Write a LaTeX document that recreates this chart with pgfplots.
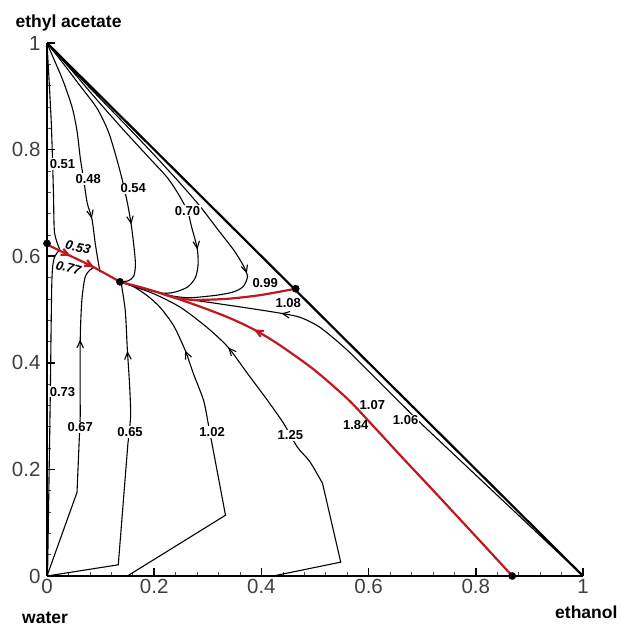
\documentclass[border=0pt]{standalone}
\usepackage{pgfplots}
\pgfplotsset{compat=1.18}
\usepackage{fontspec}
\setmainfont{Liberation Sans}
\usetikzlibrary{decorations.markings,arrows.meta}
\definecolor{rcurve}{RGB}{192,24,32}
\tikzset{
  arr/.style={postaction={decorate},decoration={markings,mark=at position #1 with {\arrow{Straight Barb[length=7pt,width=6.5pt]}}}},
  lbl/.style={font=\bfseries\fontsize{13}{15}\selectfont, fill=white, inner sep=1pt},
  lbln/.style={font=\bfseries\fontsize{13}{15}\selectfont, inner sep=1pt},
}
\begin{document}
\begin{tikzpicture}
\useasboundingbox (-47pt,-51pt) rectangle (574pt,576pt);
\begin{axis}[
  at={(0pt,0pt)}, anchor=south west,
  scale only axis, width=536pt, height=533pt,
  xmin=0,xmax=1,ymin=0,ymax=1,
  axis lines*=left, axis line style={line width=2.4pt},
  clip=false,
  xtick={0,0.2,0.4,0.6,0.8,1}, ytick={0,0.2,0.4,0.6,0.8,1},
  minor tick num=4,
  tick align=inside,
  major tick length=8pt, minor tick length=4pt,
  every major tick/.style={line width=1.6pt, black},
  every minor tick/.style={line width=0.6pt, black!70},
  tick label style={font=\fontsize{20.5}{24}\selectfont, text=black!75},
  yticklabel style={xshift=-3pt},
  /pgf/number format/assume math mode=true,
  curve/.style={black, line width=1.1pt, smooth, tension=0.45},
  poly/.style={black, line width=1.1pt},
  red/.style={rcurve, line width=2.2pt, smooth, tension=0.45},
]
% curves from the top vertex
\addplot[curve] coordinates {(0,1)(0.008,0.85)(0.012,0.72)(0.014,0.645)(0.024,0.612)};
\addplot[curve, arr=0.77] coordinates {(0,1)(0.011,0.974)(0.030,0.929)(0.047,0.879)(0.056,0.835)(0.062,0.785)(0.069,0.740)(0.075,0.700)(0.084,0.669)(0.090,0.624)(0.095,0.593)(0.099,0.570)};
\addplot[curve, arr=0.75] coordinates {(0,1)(0.03,0.962)(0.06,0.922)(0.093,0.878)(0.114,0.835)(0.128,0.79)(0.14,0.745)(0.15,0.70)(0.157,0.66)(0.162,0.62)(0.165,0.585)(0.162,0.563)(0.152,0.554)(0.136,0.552)};
\addplot[curve, arr=0.70] coordinates {(0,1)(0.045,0.950)(0.09,0.897)(0.14,0.840)(0.193,0.782)(0.224,0.748)(0.243,0.720)(0.262,0.685)(0.270,0.654)(0.280,0.616)(0.282,0.586)(0.277,0.560)(0.262,0.542)(0.236,0.532)(0.211,0.531)(0.174,0.541)(0.136,0.552)};
\addplot[curve, arr=0.684] coordinates {(0,1)(0.05,0.947)(0.1,0.895)(0.15,0.843)(0.2,0.79)(0.25,0.735)(0.286,0.693)(0.318,0.651)(0.348,0.612)(0.366,0.583)(0.374,0.562)(0.366,0.543)(0.348,0.533)(0.318,0.527)(0.267,0.522)(0.236,0.525)(0.211,0.531)(0.174,0.541)(0.136,0.552)};
% curves from the bottom
\addplot[curve] coordinates {(0.001,0)(0.006,0.33)(0.009,0.55)(0.013,0.595)(0.022,0.610)};
\addplot[poly] coordinates {(0,0)(0.056,0.157)(0.062,0.30)};
\addplot[curve, arr=0.5] coordinates {(0.062,0.30)(0.062,0.442)(0.065,0.517)(0.071,0.560)(0.080,0.574)(0.088,0.579)};
\addplot[poly] coordinates {(0,0)(0.133,0.021)(0.151,0.249)};
\addplot[curve, arr=0.57] coordinates {(0.151,0.249)(0.156,0.30)(0.154,0.36)(0.150,0.423)(0.146,0.498)(0.138,0.552)};
\addplot[poly] coordinates {(0.150,0)(0.333,0.114)(0.300,0.290)};
\addplot[curve, arr=0.43] coordinates {(0.300,0.290)(0.292,0.330)(0.273,0.380)(0.258,0.423)(0.236,0.470)(0.211,0.504)(0.187,0.526)(0.161,0.543)(0.136,0.552)};
\addplot[poly] coordinates {(0.422,0)(0.548,0.026)(0.514,0.174)};
\addplot[curve, arr=0.563] coordinates {(0.514,0.174)(0.490,0.215)(0.467,0.242)(0.441,0.287)(0.411,0.330)(0.374,0.380)(0.338,0.429)(0.299,0.466)(0.249,0.504)(0.198,0.530)(0.136,0.552)};
\addplot[curve, arr=0.71] coordinates {(1,0)(0.85,0.142)(0.697,0.287)(0.673,0.311)(0.622,0.362)(0.561,0.423)(0.510,0.466)(0.473,0.485)(0.436,0.493)(0.366,0.504)(0.305,0.513)(0.243,0.522)(0.211,0.531)(0.174,0.541)(0.136,0.552)};
% red curves
\addplot[red, arr=0.716] coordinates {(0.868,0)(0.815,0.058)(0.721,0.160)(0.665,0.220)(0.609,0.281)(0.561,0.332)(0.497,0.388)(0.430,0.436)(0.385,0.463)(0.336,0.486)(0.273,0.510)(0.211,0.531)(0.174,0.542)(0.136,0.552)};
\addplot[red, postaction={decorate},decoration={markings,mark=at position 0.32 with {\arrow{Straight Barb[length=7pt,width=6.5pt]}},mark=at position 0.64 with {\arrow{Straight Barb[length=7pt,width=6.5pt]}}}] coordinates {(0,0.622)(0.049,0.598)(0.086,0.580)(0.136,0.552)};
\addplot[red] coordinates {(0.464,0.539)(0.398,0.527)(0.336,0.520)(0.273,0.518)(0.236,0.523)(0.211,0.531)};
% hypotenuse
\addplot[black, line width=2.2pt] coordinates {(0,1)(1,0)};
% azeotropes
\addplot[only marks, mark=*, mark size=3.6pt, black] coordinates {(0,0.624)(0.136,0.552)(0.464,0.539)(0.868,0)};
% labels
\node[lbl] at (axis cs:0.029,0.773) {0.51};
\node[lbl] at (axis cs:0.077,0.745) {0.48};
\node[lbl] at (axis cs:0.161,0.727) {0.54};
\node[lbl] at (axis cs:0.262,0.685) {0.70};
\node[lbln, rotate=-14, font=\bfseries\itshape\fontsize{13}{15}\selectfont] at (axis cs:0.058,0.617) {0.53};
\node[lbln, rotate=-14, font=\bfseries\itshape\fontsize{13}{15}\selectfont] at (axis cs:0.040,0.578) {0.77};
\node[lbln] at (axis cs:0.407,0.549) {0.99};
\node[lbln] at (axis cs:0.450,0.513) {1.08};
\node[lbl] at (axis cs:0.029,0.346) {0.73};
\node[lbl] at (axis cs:0.062,0.279) {0.67};
\node[lbl] at (axis cs:0.155,0.270) {0.65};
\node[lbl] at (axis cs:0.308,0.270) {1.02};
\node[lbl] at (axis cs:0.454,0.264) {1.25};
\node[lbln] at (axis cs:0.607,0.320) {1.07};
\node[lbln] at (axis cs:0.576,0.283) {1.84};
\node[lbl] at (axis cs:0.669,0.292) {1.06};
\end{axis}
\node[anchor=base west, font=\bfseries\fontsize{17.5}{20}\selectfont] at (-35pt,548pt) {ethyl acetate};
\node[anchor=base west, font=\bfseries\fontsize{17.5}{20}\selectfont, inner sep=0pt] at (-25pt,-47pt) {water};
\node[anchor=base west, font=\bfseries\fontsize{17.5}{20}\selectfont, inner sep=0pt] at (508pt,-42pt) {ethanol};
\end{tikzpicture}
\end{document}
